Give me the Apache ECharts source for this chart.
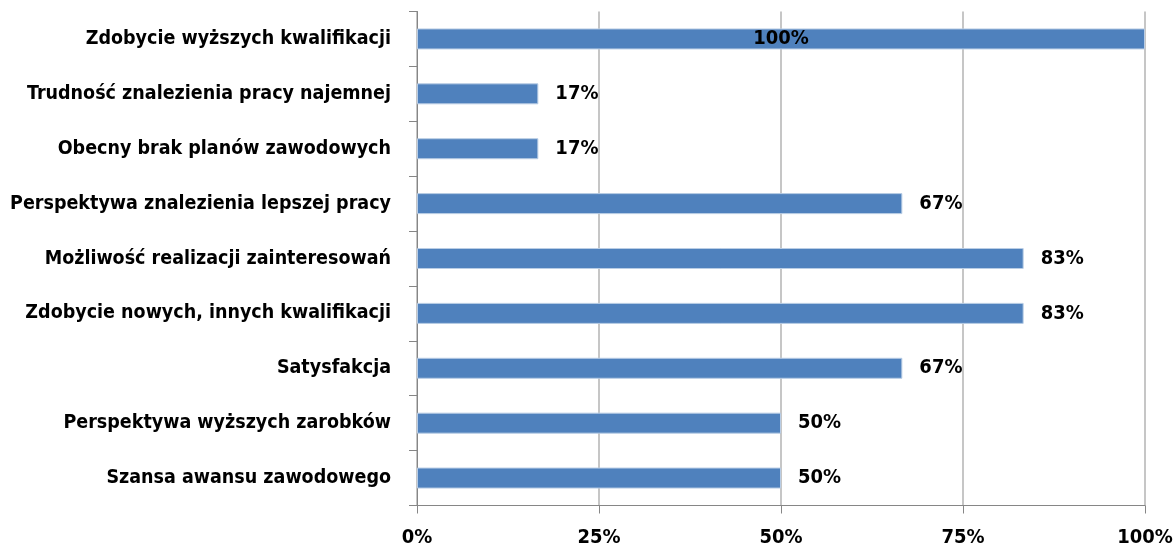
<!DOCTYPE html>
<html><head><meta charset="utf-8">
<script src="https://cdn.jsdelivr.net/npm/echarts@6/dist/echarts.min.js"></script>
<style>html,body{margin:0;padding:0;background:#fff}#c{width:1176px;height:547px}</style>
</head><body><div id="c"></div>
<script>
// categories from bottom to top (ECharts category axis on y grows upward)
const categories = [
  'Szansa awansu zawodowego',
  'Perspektywa wyższych zarobków',
  'Satysfakcja',
  'Zdobycie nowych, innych kwalifikacji',
  'Możliwość realizacji zainteresowań',
  'Perspektywa znalezienia lepszej pracy',
  'Obecny brak planów zawodowych',
  'Trudność znalezienia pracy najemnej',
  'Zdobycie wyższych kwalifikacji'
];
const values = [50, 50, 66.67, 83.33, 83.33, 66.67, 16.67, 16.67, 100];
const xTicks = [0, 25, 50, 75, 100];

const FONT = '"DejaVu Sans Condensed", "Liberation Sans Narrow", sans-serif';
const chart = echarts.init(document.getElementById('c'));
chart.setOption({
  animation: false,
  grid: {left: 417, right: 31, top: 11.5, bottom: 41.5, containLabel: false, outerBoundsMode: 'none'},
  xAxis: {
    type: 'value', min: 0, max: 100, interval: 25,
    axisLine: {show: true, lineStyle: {color: '#868686', width: 1}},
    axisTick: {show: true, length: 8, lineStyle: {color: '#868686'}},
    splitLine: {show: true, lineStyle: {color: '#B3B3B3', width: 1.5}},
    axisLabel: {
      margin: 22, color: '#000', fontFamily: FONT, fontWeight: 'bold', fontSize: 20,
      formatter: v => xTicks.includes(v) ? v + '%' : ''
    }
  },
  yAxis: {
    type: 'category', data: categories,
    axisLine: {show: true, lineStyle: {color: '#868686', width: 1}},
    axisTick: {show: true, length: 8, lineStyle: {color: '#868686'}},
    axisLabel: {margin: 26, color: '#000', fontFamily: FONT, fontWeight: 'bold', fontSize: 19.5}
  },
  series: [{
    type: 'bar', data: values.map(v => ({
      value: v,
      label: v >= 100 ? {position: 'inside'} : {}
    })),
    barWidth: 21,
    itemStyle: {color: '#4F81BD', borderColor: '#B9CDE5', borderWidth: 1},
    label: {
      show: true, position: 'right', distance: 17, color: '#000',
      fontFamily: FONT, fontWeight: 'bold', fontSize: 20,
      formatter: p => Math.round(p.value) + '%'
    }
  }]
});
</script></body></html>
